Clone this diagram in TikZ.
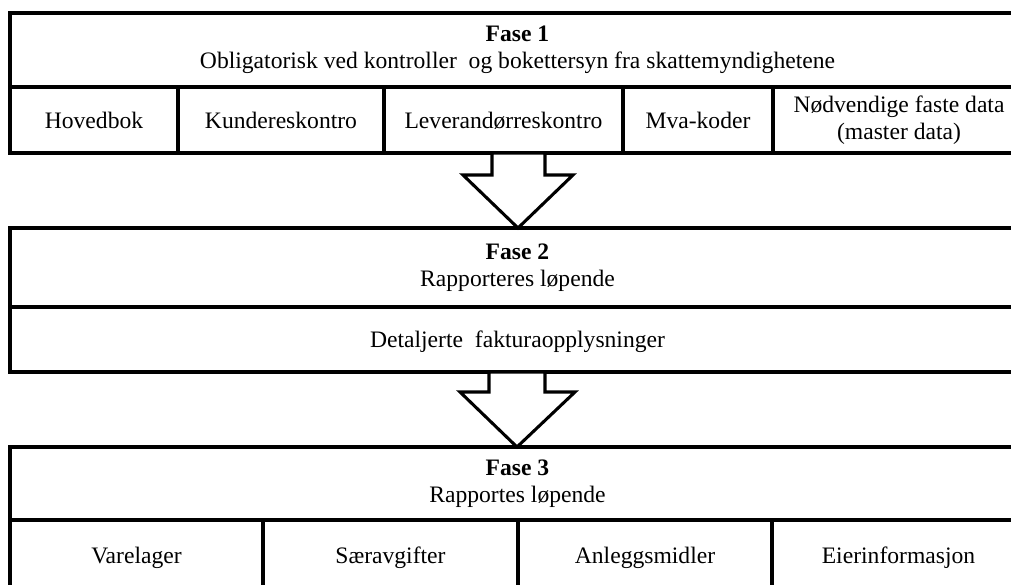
\documentclass[tikz,border=0pt]{standalone}
\usepackage{fontspec}
\setmainfont{Liberation Serif}
\usetikzlibrary{calc}
\tikzset{
  cellbox/.style={draw=black, line width=2.3pt, fill=white, inner sep=0pt, outer sep=0pt,
    align=center, font=\fontsize{17.7}{20.5}\selectfont},
  oneline/.style={text height=14.5pt, text depth=2.3pt},
  blockarrow/.style={draw=black, line width=2.3pt, fill=white, line join=miter},
}
\newcommand\mycell[7][]{%
  \node[cellbox, #1, minimum width={(#5-#3)*0.75pt}, minimum height={(#6-#4)*0.75pt}]
    (#2) at ({(#3+#5)/2},{(#4+#6)/2}) {#7};}
\begin{document}
\begin{tikzpicture}[x=0.75pt, y=-0.75pt]
\useasboundingbox (0,0) rectangle (1011,585);
\clip (0,0) rectangle (1011,585);
\fill[white] (0,0) rectangle (1011,585);
% Fase 1
\mycell{f1head}{10}{13}{1025}{87}{\textbf{Fase 1}\\Obligatorisk ved kontroller\ \ og bokettersyn fra skattemyndighetene}
\mycell[oneline]{hoved}{10}{87}{178}{153}{Hovedbok}
\mycell[oneline]{kunde}{178}{87}{384}{153}{Kundereskontro}
\mycell[oneline]{lev}{384}{87}{623}{153}{Leverandørreskontro}
\mycell[oneline]{mva}{623}{87}{773}{153}{Mva-koder}
\mycell{master}{773}{87}{1025}{153}{Nødvendige faste data\\(master data)}
% Fase 2
\mycell{f2head}{10}{228}{1025}{307}{\textbf{Fase 2}\\Rapporteres løpende}
\mycell[oneline]{faktura}{10}{307}{1025}{372}{Detaljerte\ \ fakturaopplysninger}
% Fase 3
\mycell{f3head}{10}{447}{1025}{520}{\textbf{Fase 3}\\Rapportes løpende}
\mycell[oneline]{vare}{10}{520}{263}{590}{Varelager}
\mycell[oneline]{saer}{263}{520}{518}{590}{Særavgifter}
\mycell[oneline]{anlegg}{518}{520}{772}{590}{Anleggsmidler}
\mycell[oneline]{eier}{772}{520}{1025}{590}{Eierinformasjon}
% arrows
\draw[blockarrow] (lev.south -| 492,0) -- (492,175) -- (463,175) -- (f2head.north -| 518,0)
  -- (573,175) -- (545,175) -- (lev.south -| 545,0) -- cycle;
\draw[blockarrow] (faktura.south -| 489,0) -- (489,392) -- (460,392) -- (f3head.north -| 517,0)
  -- (575,392) -- (545,392) -- (faktura.south -| 545,0) -- cycle;
\end{tikzpicture}
\end{document}
